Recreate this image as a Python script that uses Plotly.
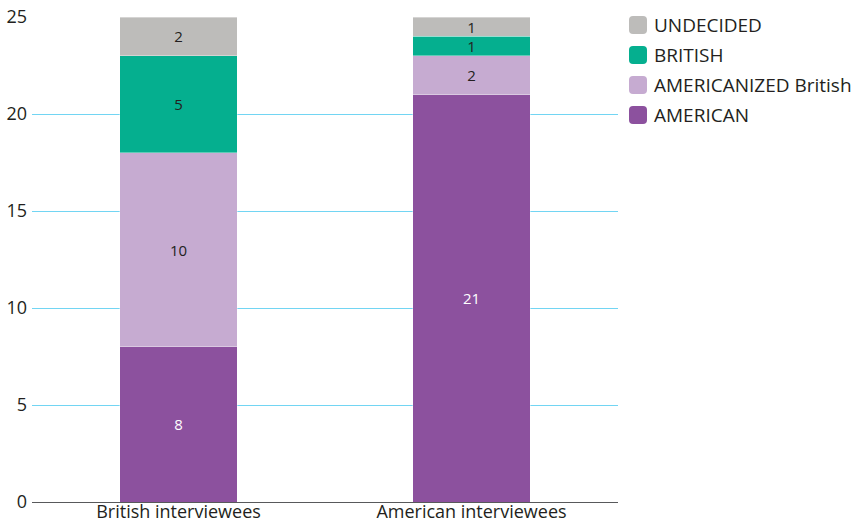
import plotly.graph_objects as go

categories = ["British interviewees", "American interviewees"]
american = [8, 21]
americanized = [10, 2]
british = [5, 1]
undecided = [2, 1]

series = [
    ("AMERICAN", american, "#8c519e", "white"),
    ("AMERICANIZED British", americanized, "#c6abd1", "#231f20"),
    ("BRITISH", british, "#05af8f", "#231f20"),
    ("UNDECIDED", undecided, "#bdbcba", "#231f20"),
]

FONT = "Open Sans"
fig = go.Figure()
for name, vals, color, tcolor in series:
    fig.add_trace(go.Bar(
        x=categories, y=vals, name=name,
        marker=dict(color=color, line=dict(color="rgba(255,255,255,0.6)", width=0.6)),
        text=[str(v) for v in vals], textposition="inside", insidetextanchor="middle",
        textangle=0, constraintext="none",
        textfont=dict(color=tcolor, size=15, family=FONT),
        width=0.4, showlegend=False,
    ))

# Hand-drawn legend: rounded swatches with labels, top entry = top of the stack
def rounded_square(x0, y0, x1, y1, rx, ry):
    return (f"M{x0+rx},{y0} L{x1-rx},{y0} Q{x1},{y0} {x1},{y0+ry} "
            f"L{x1},{y1-ry} Q{x1},{y1} {x1-rx},{y1} L{x0+rx},{y1} "
            f"Q{x0},{y1} {x0},{y1-ry} L{x0},{y0+ry} Q{x0},{y0} {x0+rx},{y0} Z")

W, H = 856, 525
ml, mr, mt, mb = 32, 238, 17, 23
pw, ph = W - ml - mr, H - mt - mb
legend_entries = list(reversed(series))
row_y = [25, 55, 85, 115]
sw_x0, sw_x1 = 629, 647
for (name, vals, color, _), cy in zip(legend_entries, row_y):
    x0 = (sw_x0 - ml) / pw
    x1 = (sw_x1 - ml) / pw
    y_top = 1 - (cy - 9 - mt) / ph
    y_bot = 1 - (cy + 9 - mt) / ph
    fig.add_shape(type="path", xref="paper", yref="paper",
                  path=rounded_square(x0, y_bot, x1, y_top, 4 / pw, 4 / ph),
                  fillcolor=color, line=dict(width=0), layer="above")
    fig.add_annotation(xref="paper", yref="paper", x=(652 - ml) / pw,
                       y=1 - (cy - mt) / ph, text=name, showarrow=False,
                       xanchor="left", yanchor="middle",
                       font=dict(size=19, family=FONT, color="#231f20"))

fig.update_layout(
    barmode="stack",
    width=W, height=H,
    margin=dict(l=ml, r=mr, t=mt, b=mb),
    paper_bgcolor="white", plot_bgcolor="white",
    font=dict(family=FONT, color="#231f20"),
    uniformtext=dict(minsize=15, mode="show"),
    showlegend=False,
    xaxis=dict(range=[-0.5, 1.5], showgrid=False, ticks="", automargin=False,
               tickfont=dict(size=18), ticklabelstandoff=-3,
               showline=False, zeroline=False),
    yaxis=dict(range=[0, 25], dtick=5, showgrid=True, gridcolor="#72d5f3",
               gridwidth=1, zeroline=True, zerolinecolor="#58595b", zerolinewidth=1,
               tickfont=dict(size=18), ticks="", ticklabelstandoff=4,
               automargin=False),
)

fig.write_html("out.html")
